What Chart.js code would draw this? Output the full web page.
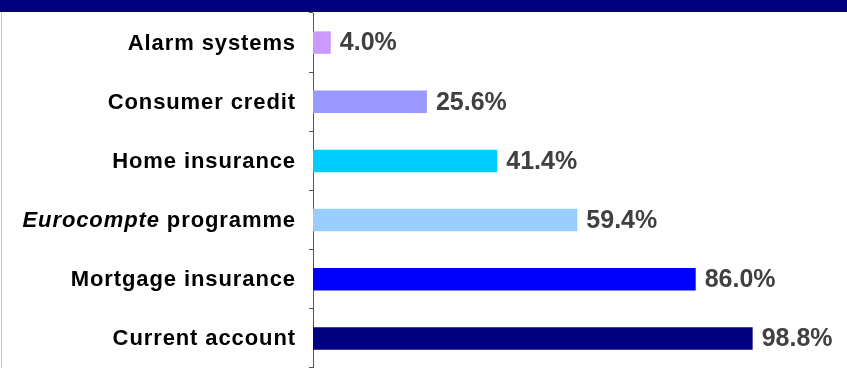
<!DOCTYPE html>
<html>
<head>
<meta charset="utf-8">
<script src="https://cdn.jsdelivr.net/npm/chart.js@4/dist/chart.umd.min.js"></script>
<style>
    html, body { margin: 0; padding: 0; background: #ffffff; }
    canvas { display: block; }
</style>
</head>
<body>
<canvas id="plot" width="847" height="368"></canvas>
<script>
const categories = ['Alarm systems', 'Consumer credit', 'Home insurance', 'Eurocompte programme', 'Mortgage insurance', 'Current account'];
const shares = [4.0, 25.6, 41.4, 59.4, 86.0, 98.8];
const barColors = ['#cc99ff', '#9999ff', '#00ccff', '#99ccff', '#0000ff', '#000080'];
const italicWords = ['Eurocompte'];

const labelFont = 'bold 22px "Liberation Sans", Arial, sans-serif';
const labelFontItalic = 'italic bold 22px "Liberation Sans", Arial, sans-serif';

// splits a category name into plain and italic runs
function labelParts(text) {
    return text.split(' ').map((word, i, all) => ({
        text: word + (i < all.length - 1 ? ' ' : ''),
        italic: italicWords.includes(word)
    }));
}

const frame = {
    id: 'frame',
    beforeDraw(chart) {
        const ctx = chart.ctx;
        ctx.save();
        ctx.fillStyle = '#ffffff';
        ctx.fillRect(0, 0, chart.width, chart.height);
        ctx.fillStyle = '#000080';
        ctx.fillRect(0, 0, chart.width, 12);
        ctx.strokeStyle = '#c8c8c8';
        ctx.lineWidth = 1;
        ctx.beginPath();
        ctx.moveTo(1.5, 12);
        ctx.lineTo(1.5, chart.height);
        ctx.stroke();
        ctx.restore();
    }
};

const categoryLabels = {
    id: 'categoryLabels',
    afterDraw(chart) {
        const ctx = chart.ctx;
        const yScale = chart.scales.y;
        const right = chart.chartArea.left - 17;
        ctx.save();
        ctx.fillStyle = '#000000';
        ctx.textBaseline = 'middle';
        ctx.textAlign = 'left';
        ctx.letterSpacing = '0.9px';
        categories.forEach((name, i) => {
            const parts = labelParts(name);
            const widths = parts.map(p => {
                ctx.font = p.italic ? labelFontItalic : labelFont;
                return ctx.measureText(p.text).width;
            });
            let x = right - widths.reduce((a, b) => a + b, 0);
            const y = yScale.getPixelForValue(i) + 1;
            parts.forEach((p, k) => {
                ctx.font = p.italic ? labelFontItalic : labelFont;
                ctx.fillText(p.text, x, y);
                x += widths[k];
            });
        });
        ctx.restore();
    }
};

const valueLabels = {
    id: 'valueLabels',
    afterDatasetsDraw(chart) {
        const ctx = chart.ctx;
        const bars = chart.getDatasetMeta(0).data;
        ctx.save();
        ctx.font = 'bold 25px "Liberation Sans", Arial, sans-serif';
        ctx.fillStyle = '#404040';
        ctx.textBaseline = 'middle';
        bars.forEach((bar, i) => {
            ctx.fillText(shares[i].toFixed(1) + '%', bar.x + 9, bar.y + 1);
        });
        ctx.restore();
    }
};

const ctx = document.getElementById('plot').getContext('2d');
new Chart(ctx, {
    type: 'bar',
    data: {
        labels: categories,
        datasets: [{
            data: shares,
            backgroundColor: barColors,
            borderWidth: 0,
            categoryPercentage: 1,
            barPercentage: 0.38
        }]
    },
    options: {
        indexAxis: 'y',
        responsive: false,
        animation: false,
        layout: { padding: { top: 13 } },
        plugins: {
            legend: { display: false },
            tooltip: { enabled: false }
        },
        scales: {
            x: {
                display: false,
                min: 0,
                max: 120
            },
            y: {
                afterFit(scale) { scale.width = 313; },
                ticks: { display: false },
                grid: {
                    display: true,
                    drawOnChartArea: false,
                    drawTicks: true,
                    tickLength: 4,
                    color: '#555555',
                    offset: true
                },
                border: { display: true, color: '#555555', width: 1 }
            }
        }
    },
    plugins: [frame, categoryLabels, valueLabels]
});
</script>
</body>
</html>
